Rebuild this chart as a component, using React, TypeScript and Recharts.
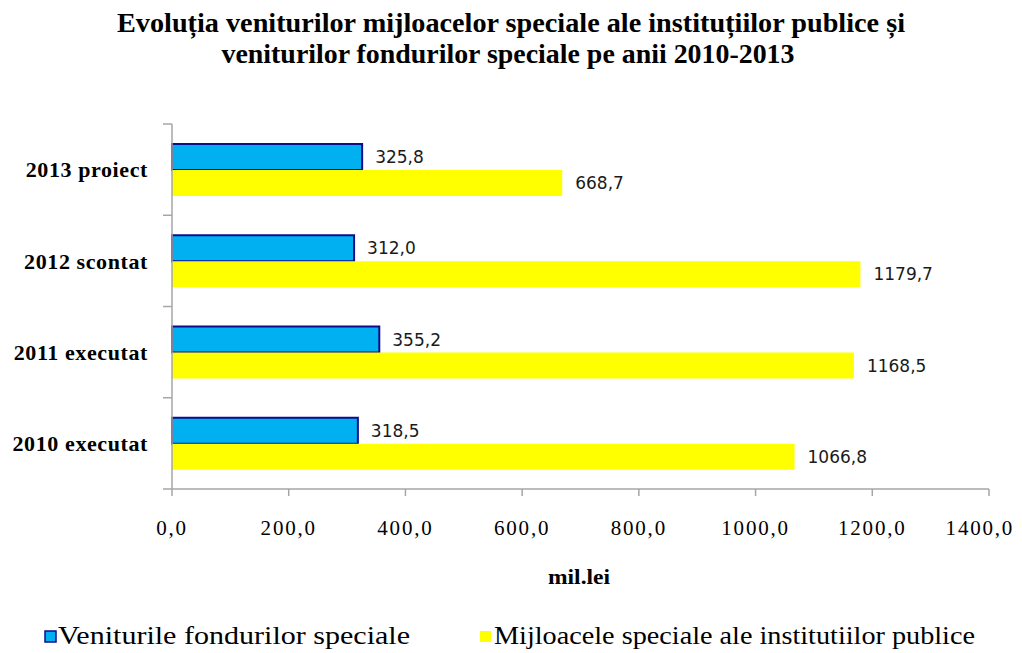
import { BarChart, Bar, XAxis, YAxis, LabelList } from 'recharts'

const categories = ['2013 proiect', '2012 scontat', '2011 executat', '2010 executat']
const fonduriSpeciale = [325.8, 312.0, 355.2, 318.5]
const mijloaceSpeciale = [668.7, 1179.7, 1168.5, 1066.8]
const xTicks = [0, 200, 400, 600, 800, 1000, 1200, 1400]

const titleLines = [
  'Evoluția veniturilor mijloacelor speciale ale instituțiilor publice și',
  'veniturilor fondurilor speciale pe anii 2010-2013',
]
const legendLabels = ['Veniturile fondurilor speciale', 'Mijloacele speciale ale institutiilor publice']

const data = categories.map((name, i) => ({
  name,
  fonduri: fonduriSpeciale[i],
  mijloace: mijloaceSpeciale[i],
}))

const fmt = (v: unknown) => Number(v).toFixed(1).replace('.', ',')

const serif = '"Liberation Serif", "Times New Roman", serif'
const axisGray = '#a6a6a6'

function CategoryTick(props: any) {
  const { x, y, payload, index, visibleTicksCount } = props
  const half = payload?.offset ?? 45.6
  const axisX = 172
  return (
    <g>
      <line x1={axisX - 9} x2={axisX} y1={y - half} y2={y - half} stroke={axisGray} strokeWidth={1.5} />
      {index === (visibleTicksCount ?? 4) - 1 && (
        <line x1={axisX - 9} x2={axisX} y1={y + half} y2={y + half} stroke={axisGray} strokeWidth={1.5} />
      )}
      <text x={x} y={y} dy="0.35em" textAnchor="end" fontFamily={serif} fontWeight="bold" fontSize={22}
        letterSpacing={0.6} fill="#000">
        {payload.value}
      </text>
    </g>
  )
}

export default function App() {
  return (
    <div style={{ position: 'absolute', left: 0, top: 0, width: 1022, height: 653, background: '#fff' }}>
      <svg width={1022} height={653} style={{ position: 'absolute', left: 0, top: 0 }}>
        <text x={511} y={32} textAnchor="middle" fontFamily={serif} fontWeight="bold" fontSize={27}
          textLength={788} lengthAdjust="spacingAndGlyphs">{titleLines[0]}</text>
        <text x={508} y={63} textAnchor="middle" fontFamily={serif} fontWeight="bold" fontSize={27}
          textLength={573} lengthAdjust="spacingAndGlyphs">{titleLines[1]}</text>
        <text x={579} y={584} textAnchor="middle" fontFamily={serif} fontWeight="bold" fontSize={22}
          textLength={62} lengthAdjust="spacingAndGlyphs">mil.lei</text>
        <rect x={45} y={631} width={11} height={11} fill="#00B0F0" stroke="#0D0D8C" strokeWidth={1.5} />
        <text x={58} y={644} fontFamily={serif} fontSize={25} textLength={352} lengthAdjust="spacingAndGlyphs">{legendLabels[0]}</text>
        <rect x={480} y={631} width={11} height={11} fill="#FFFF00" />
        <text x={494} y={644} fontFamily={serif} fontSize={25} textLength={481} lengthAdjust="spacingAndGlyphs">{legendLabels[1]}</text>
      </svg>
      <div style={{ position: 'absolute', left: 0, top: 0 }}>
        <BarChart
          width={1022}
          height={653}
          data={data}
          layout="vertical"
          margin={{ top: 124, right: 33, bottom: 134, left: 0 }}
          barGap={0}
        >
          <XAxis
            type="number"
            domain={[0, 1400]}
            ticks={xTicks}
            tickFormatter={fmt}
            stroke={axisGray}
            strokeWidth={1.5}
            tickSize={7}
            tickMargin={24}
            height={30}
            tick={{ fill: '#000', fontSize: 21, fontFamily: serif, letterSpacing: 1.8 }}
          />
          <YAxis
            type="category"
            dataKey="name"
            width={172}
            stroke={axisGray}
            strokeWidth={1.5}
            tickLine={false}
            tickSize={9}
            tickMargin={15}
            tick={<CategoryTick />}
          />
          <Bar dataKey="fonduri" fill="#00B0F0" stroke="#0D0D8C" strokeWidth={2} barSize={26} isAnimationActive={false}>
            <LabelList dataKey="fonduri" position="right" offset={13} formatter={fmt}
              style={{ fill: '#1a1a1a', fontSize: 17, fontFamily: '"DejaVu Sans", sans-serif' }} />
          </Bar>
          <Bar dataKey="mijloace" fill="#FFFF00" barSize={26} isAnimationActive={false}>
            <LabelList dataKey="mijloace" position="right" offset={13} formatter={fmt}
              style={{ fill: '#1a1a1a', fontSize: 17, fontFamily: '"DejaVu Sans", sans-serif' }} />
          </Bar>
        </BarChart>
      </div>
    </div>
  )
}
